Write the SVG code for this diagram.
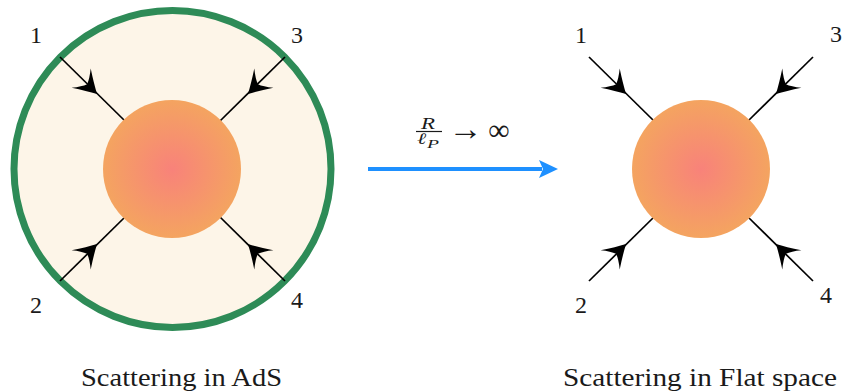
<svg xmlns="http://www.w3.org/2000/svg" width="844" height="391" viewBox="0 0 844 391">
<style>
.lbl{font-size:24px;fill:#1a1a1a;text-anchor:middle}
.cap{font-size:26px;fill:#1a1a1a}
.leg{stroke:#000;stroke-width:1.7;fill:none}
.math{fill:#1a1a1a}
</style>
<defs>
<radialGradient id="blob" cx="50%" cy="50%" r="50%">
<stop offset="0" stop-color="#F8827A"/>
<stop offset="1" stop-color="#F4A460"/>
</radialGradient>
<path id="ah" d="M1.5,0 Q-8,-5 -21,-13.5 Q-14.5,-5.5 -12.5,0 Q-14.5,5.5 -21,13.5 Q-8,5 1.5,0 Z" fill="#000"/>
</defs>
<g id="ads">
<circle cx="172.5" cy="169" r="158.5" fill="#FDF5E8" stroke="#2E8B57" stroke-width="7"/>
</g>
<g id="connectors">
<line class="leg" x1="60" y1="57" x2="125" y2="121"/>
<line class="leg" x1="285" y1="57" x2="220" y2="121"/>
<line class="leg" x1="60" y1="281" x2="125" y2="217"/>
<line class="leg" x1="285" y1="281" x2="220" y2="217"/>
<use href="#ah" transform="translate(96,93) rotate(45)"/>
<use href="#ah" transform="translate(249,93) rotate(135)"/>
<use href="#ah" transform="translate(96,245) rotate(-45)"/>
<use href="#ah" transform="translate(249,245) rotate(-135)"/>
<line class="leg" x1="589" y1="57" x2="654" y2="121"/>
<line class="leg" x1="813" y1="57" x2="748" y2="121"/>
<line class="leg" x1="589" y1="281" x2="654" y2="217"/>
<line class="leg" x1="813" y1="281" x2="748" y2="217"/>
<use href="#ah" transform="translate(625,93) rotate(45)"/>
<use href="#ah" transform="translate(777,93) rotate(135)"/>
<use href="#ah" transform="translate(625,245) rotate(-45)"/>
<use href="#ah" transform="translate(777,245) rotate(-135)"/>
<line x1="368" y1="169" x2="542" y2="169" stroke="#1E90FF" stroke-width="4"/>
<path d="M558,169 L539,160 L543,169 L539,178 Z" fill="#1E90FF"/>
</g>
<g id="blob-ads"><circle cx="172" cy="169" r="69" fill="url(#blob)"/></g>
<g id="blob-flat"><circle cx="701" cy="169" r="69" fill="url(#blob)"/></g>
<g id="labels-ads" font-family="Liberation Serif, DejaVu Serif, serif">
<text class="lbl" x="36" y="43">1</text>
<text class="lbl" x="297" y="43">3</text>
<text class="lbl" x="36" y="313">2</text>
<text class="lbl" x="297" y="308">4</text>
</g>
<g id="labels-flat" font-family="Liberation Serif, DejaVu Serif, serif">
<text class="lbl" x="581" y="43">1</text>
<text class="lbl" x="836" y="42">3</text>
<text class="lbl" x="581" y="313">2</text>
<text class="lbl" x="826" y="303">4</text>
</g>
<g id="limit" font-family="Liberation Serif, DejaVu Serif, serif">
<text class="math" x="421" y="128.5" font-size="17" font-style="italic" textLength="14" lengthAdjust="spacingAndGlyphs">R</text>
<line x1="416" y1="131.5" x2="442" y2="131.5" stroke="#1a1a1a" stroke-width="1.2"/>
<text class="math" x="417" y="144" font-size="16" font-style="italic" textLength="9" lengthAdjust="spacingAndGlyphs">ℓ</text>
<text class="math" x="427" y="147.5" font-size="12" font-style="italic" textLength="12" lengthAdjust="spacingAndGlyphs">P</text>
<text class="math" x="465.5" y="140" font-size="34" text-anchor="middle">→</text>
<text class="math" x="499" y="139.5" font-size="30" text-anchor="middle">∞</text>
</g>
<g id="captions" font-family="Liberation Serif, DejaVu Serif, serif">
<text class="cap" x="81" y="386" textLength="201" lengthAdjust="spacingAndGlyphs">Scattering in AdS</text>
<text class="cap" x="563" y="386" textLength="274" lengthAdjust="spacingAndGlyphs">Scattering in Flat space</text>
</g>
</svg>
